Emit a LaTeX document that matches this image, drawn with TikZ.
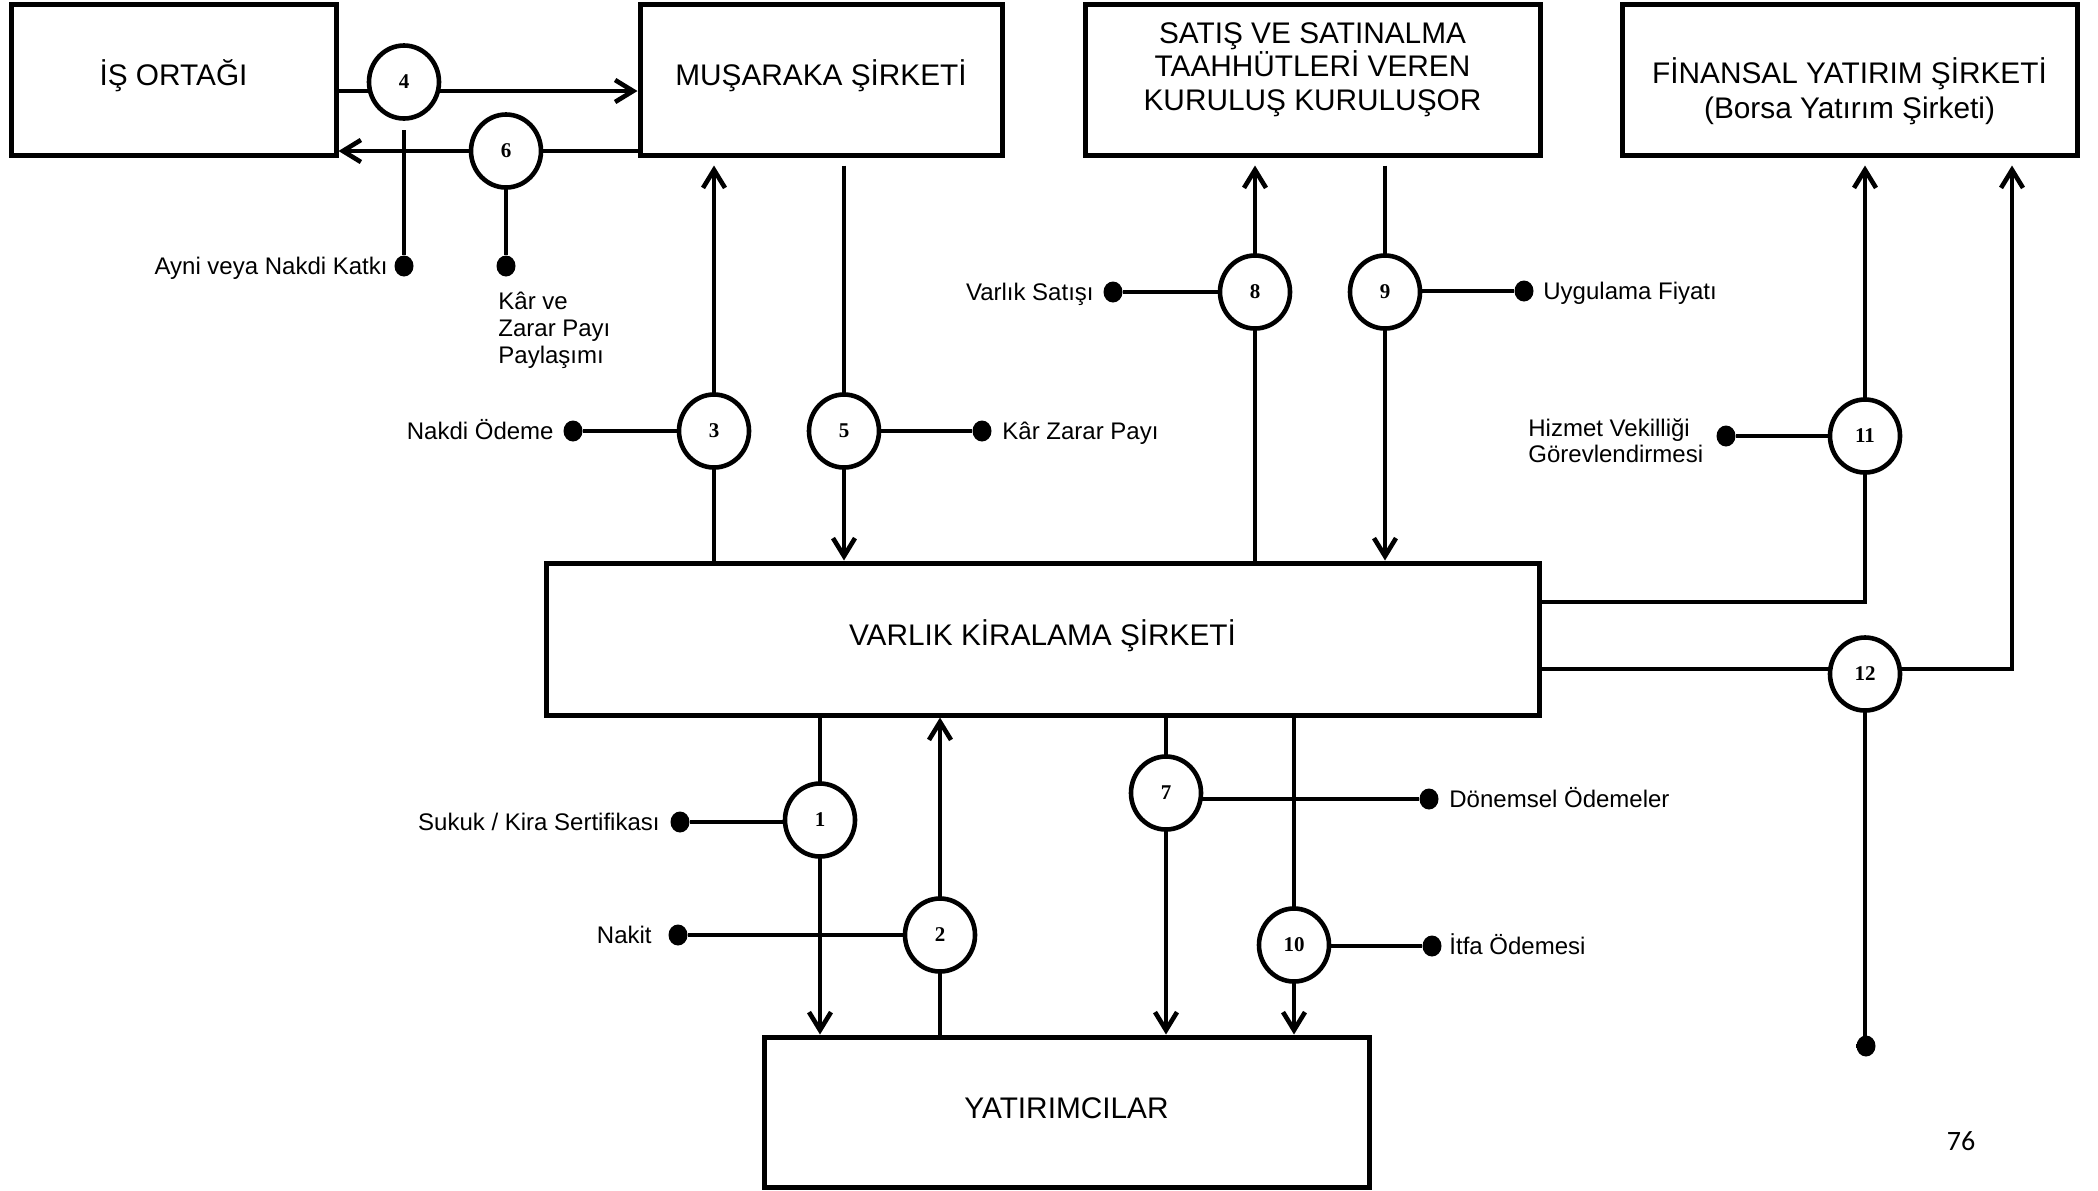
\documentclass[tikz,border=0pt]{standalone}
\usepackage{fontspec}
\setmainfont{Liberation Sans}
\newfontfamily\numfont{Liberation Serif}
\newfontfamily\pagefont{Carlito}
\usetikzlibrary{arrows.meta,shapes.geometric,backgrounds,calc}
\begin{document}
\begin{tikzpicture}[x=0.5pt,y=-0.5pt,
  entity/.style={draw,line width=2.5pt,rectangle,inner sep=0pt,
    font=\fontsize{14.9}{17}\selectfont,align=center,text height=8.2pt,text depth=2.2pt},
  entitytext/.style={inner sep=0pt,font=\fontsize{14.9}{17}\selectfont,align=center},
  stepnum/.style={draw,ellipse,line width=2.3pt,fill=white,minimum width=35pt,
    minimum height=36.5pt,inner sep=0pt,font=\numfont\bfseries\fontsize{10.5}{12}\selectfont},
  enddot/.style={fill,ellipse,minimum width=9.5pt,minimum height=10.5pt,inner sep=0pt},
  lab/.style={inner sep=0pt,font=\fontsize{12}{13}\selectfont},
  conn/.style={line width=2.3pt},
  arr/.style={line width=2.3pt,-{Straight Barb[length=9pt,width=11pt]}},
]
\useasboundingbox (0,0) rectangle (2098,1190);

% boxes
\node[entity,minimum width=162.5pt,minimum height=75.5pt] (IS) at (173.5,79.5) {İŞ ORTAĞI};
\node[entity,minimum width=181pt,minimum height=75.5pt] (MUS) at (821,79.5) {MUŞARAKA ŞİRKETİ};
\node[entity,minimum width=227.5pt,minimum height=75.5pt] (SAT) at (1312.5,79.5) {};
\node[entitytext,font=\fontsize{14.9}{16.75}\selectfont] (SATt) at (1312.5,69.5) {SATIŞ VE SATINALMA\\TAAHHÜTLERİ VEREN\\KURULUŞ KURULUŞOR};
\node[entity,minimum width=227.5pt,minimum height=75.5pt] (FIN) at (1849.5,79.5) {};
\node[entitytext,font=\fontsize{14.9}{17.4}\selectfont] (FINt) at (1849.5,91.4) {FİNANSAL YATIRIM ŞİRKETİ\\(Borsa Yatırım Şirketi)};
\node[entity,minimum width=496.5pt,minimum height=76pt] (VAR) at (1042.5,639) {VARLIK KİRALAMA ŞİRKETİ};
\node[entity,minimum width=302.5pt,minimum height=75pt] (YAT) at (1066.5,1112) {YATIRIMCILAR};

% numbered circles
\node[stepnum] (n4) at (404,82) {4};
\node[stepnum] (n6) at (506,151) {6};
\node[stepnum] (n3) at (714,431) {3};
\node[stepnum] (n5) at (844,431) {5};
\node[stepnum] (n8) at (1255,292) {8};
\node[stepnum] (n9) at (1385,292) {9};
\node[stepnum] (n11) at (1865,436) {11};
\node[stepnum] (n12) at (1865,674) {12};
\node[stepnum] (n1) at (820,820) {1};
\node[stepnum] (n2) at (940,935) {2};
\node[stepnum] (n7) at (1166,793) {7};
\node[stepnum] (n10) at (1294,945) {10};

% end dots
\node[enddot] (d4) at (404,266) {};
\node[enddot] (d6) at (506,266) {};
\node[enddot] (d3) at (573,431) {};
\node[enddot] (d5) at (982,431) {};
\node[enddot] (d8) at (1113,292) {};
\node[enddot] (d9) at (1524,291) {};
\node[enddot] (d11) at (1726,436) {};
\node[enddot] (d12) at (1866,1046) {};
\node[enddot] (d1) at (680,822) {};
\node[enddot] (d2) at (678,935) {};
\node[enddot] (d7) at (1429,799) {};
\node[enddot] (d10) at (1432,946) {};

% helper coordinates
\coordinate (l4) at (404,91);
\coordinate (t4) at (404,130);
\coordinate (k11) at (1865,602);
\coordinate (k12) at (2012,669);

% labels
\node[lab,anchor=base east] (L4) at (388,274.6) {Ayni veya Nakdi Katkı};
\node[lab,anchor=west,align=left,font=\fontsize{12}{13.5}\selectfont] (L6) at (498,330) {Kâr ve\\Zarar Payı\\Paylaşımı};
\node[lab,anchor=base east] (L3) at (554,439.6) {Nakdi Ödeme};
\node[lab,anchor=base west] (L5) at (1002,439.6) {Kâr Zarar Payı};
\node[lab,anchor=base east] (L8) at (1094,300.6) {Varlık Satışı};
\node[lab,anchor=base west] (L9) at (1543,299.6) {Uygulama Fiyatı};
\node[lab,anchor=west,align=left,font=\fontsize{12}{12.9}\selectfont] (L11) at (1528,441) {Hizmet Vekilliği\\Görevlendirmesi};
\node[lab,anchor=base east] (L1) at (660,830.6) {Sukuk / Kira Sertifikası};
\node[lab,anchor=base east] (L2) at (652,943.6) {Nakit};
\node[lab,anchor=base west] (L7) at (1449,807.6) {Dönemsel Ödemeler};
\node[lab,anchor=base west] (L10) at (1449,954.6) {İtfa Ödemesi};

\node[inner sep=0pt,font=\pagefont\fontsize{14}{16}\selectfont] (pg) at (1961,1141) {76};

% connectors behind circles
\begin{scope}[on background layer]
\fill[white] (0,0) rectangle (2098,1190);
\draw[arr] (IS.east |- l4) -- (MUS.west |- l4);
\draw[conn] (t4) -- (d4);
\draw[arr] (MUS.west |- n6) -- (IS.east |- n6);
\draw[conn] (n6.center) -- (n6.center -| d6) -- (d6);
\draw[arr] (VAR.north -| n3) -- ($(MUS.south -| n3)+(0,8)$);
\draw[conn] (n3.center) -- (d3);
\draw[arr] ($(MUS.south -| n5)+(0,8)$) -- (VAR.north -| n5);
\draw[conn] (n5.center) -- (d5);
\draw[arr] (VAR.north -| n8) -- ($(SAT.south -| n8)+(0,8)$);
\draw[conn] (n8.center) -- (d8);
\draw[arr] ($(SAT.south -| n9)+(0,8)$) -- (VAR.north -| n9);
\draw[conn] (n9.center |- d9) -- (d9);
\draw[arr] (VAR.east |- k11) -- (k11) -- ($(FIN.south -| k11)+(0,8)$);
\draw[conn] (n11.center) -- (d11);
\draw[arr] (VAR.east |- k12) -- (k12) -- ($(FIN.south -| k12)+(0,8)$);
\draw[conn] (n12.center) -- (n12.center |- d12) -- (d12);
\draw[arr] (VAR.south -| n1) -- (YAT.north -| n1);
\draw[conn] (n1.center |- d1) -- (d1);
\draw[arr] (YAT.north -| n2) -- (VAR.south -| n2);
\draw[conn] (n2.center) -- (d2);
\draw[arr] (VAR.south -| n7) -- (YAT.north -| n7);
\draw[conn] (n7.center |- d7) -- (d7);
\draw[arr] (VAR.south -| n10) -- (YAT.north -| n10);
\draw[conn] (n10.center |- d10) -- (d10);
\end{scope}
\end{tikzpicture}
\end{document}
